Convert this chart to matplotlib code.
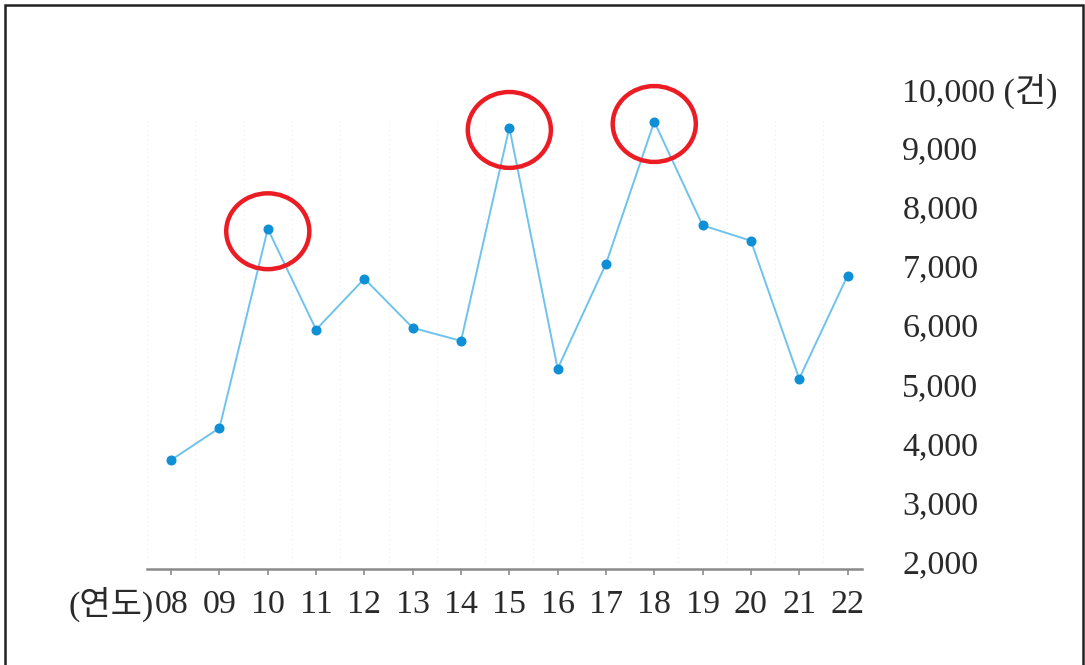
import matplotlib
matplotlib.use("Agg")
import matplotlib.pyplot as plt
from matplotlib.patches import Ellipse, Rectangle

# ---- data ----
years = ["08", "09", "10", "11", "12", "13", "14", "15", "16", "17", "18", "19", "20", "21", "22"]
counts = [3720, 4260, 7620, 5920, 6780, 5950, 5730, 9330, 5260, 7030, 9430, 7680, 7420, 5090, 6830]
highlight_years = ["10", "15", "18"]
ytick_values = [2000, 3000, 4000, 5000, 6000, 7000, 8000, 9000, 10000]
ytick_labels = ["2,000", "3,000", "4,000", "5,000", "6,000", "7,000", "8,000", "9,000", "10,000 (건)"]
x_unit_label = "(연도)"

FONT = ["Liberation Serif", "Noto Sans CJK KR", "DejaVu Sans"]
plt.rcParams["font.family"] = FONT
TXT = "#2a2a2a"

W, H = 1085, 665
fig = plt.figure(figsize=(W / 100, H / 100), dpi=100)
fig.patch.set_facecolor("white")

# outer frame
frame = Rectangle((5 / W, -0.01), (1078 / W), (660 / H) + 0.01, transform=fig.transFigure,
                  fill=False, edgecolor="#222222", linewidth=1.8)
fig.patches.append(frame)

ax = fig.add_axes([147 / W, (H - 569) / H, 715 / W, 493 / H])
x = list(range(len(years)))

# faint dotted vertical grid
for i in range(len(years) + 1):
    ax.plot([i - 0.5, i - 0.5], [2000, 9450], color="#ececec", linewidth=0.8,
            linestyle=(0, (1, 3)), zorder=0)

ax.plot(x, counts, color="#6ec3ec", linewidth=1.4, zorder=2)
ax.plot(x, counts, linestyle="none", marker="o", markersize=6.2,
        color="#0f8fd6", zorder=3)

# red highlight circles
for yr in highlight_years:
    i = years.index(yr)
    e = Ellipse((i, counts[i] - 40), width=1.72, height=1280, fill=False,
                edgecolor="#ec1c24", linewidth=3.2, zorder=4)
    ax.add_patch(e)

ax.set_xlim(-0.5, 14.3)
ax.set_ylim(1880, 10200)

for s in ["top", "left", "right"]:
    ax.spines[s].set_visible(False)
ax.spines["bottom"].set_color("#8a8a8a")
ax.spines["bottom"].set_linewidth(1.8)

ax.set_xticks(x)
ax.set_xticklabels(years, fontsize=24.5, color=TXT)
ax.tick_params(axis="x", length=4.5, width=1.2, color="#8a8a8a", pad=10)

ax.yaxis.tick_right()
ax.set_yticks(ytick_values)
ax.set_yticklabels(ytick_labels, fontsize=24.5, color=TXT, ha="left")
ax.tick_params(axis="y", length=0, pad=29)

# unit label for x axis
lbl0 = ax.get_xticklabels()[0]
fig.canvas.draw()
bb = lbl0.get_window_extent()
fig.text((bb.x0 - 1) / W, (bb.y0 + bb.y1) / 2 / H, x_unit_label, fontsize=24.5,
         color=TXT, ha="right", va="center", family=FONT)

fig.savefig("out.png", dpi=100, facecolor="white")
